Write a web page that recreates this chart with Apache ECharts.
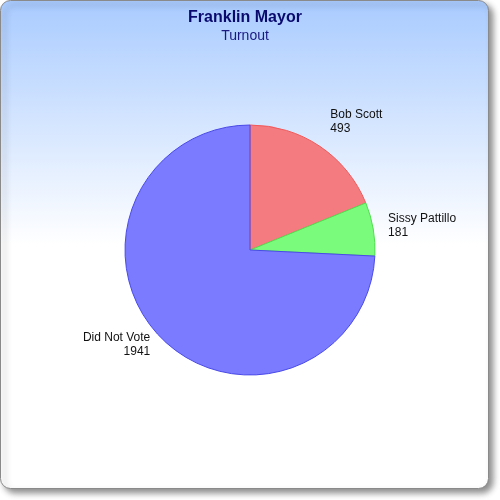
<!DOCTYPE html>
<html><head><meta charset="utf-8">
<script src="https://cdn.jsdelivr.net/npm/echarts@6/dist/echarts.min.js"></script>
<style>html,body{margin:0;padding:0;background:#fff}#c{width:500px;height:500px}</style>
</head><body><div id="c"></div>
<script>
const titleText = 'Franklin Mayor';
const subtitleText = 'Turnout';
const categories = ['Bob Scott', 'Sissy Pattillo', 'Did Not Vote'];
const values = [493, 181, 1941];
const fills = ['#f47b80', '#7bfb7b', '#7b7bff'];
const edges = ['#f05a5a', '#4ee04e', '#4a4ae8'];
const labelShiftY = [-16, -2, 2];
const labelShiftX = [0, 0, 3];

const chart = echarts.init(document.getElementById('c'), null, {renderer: 'canvas'});
chart.setOption({
  animation: false,
  backgroundColor: '#ffffff',
  graphic: [{
    type: 'rect', z: -10, silent: true,
    shape: {x: 0.5, y: 0.5, width: 488, height: 488, r: 10},
    style: {
      fill: new echarts.graphic.LinearGradient(0, 0, 0, 1, [
        {offset: 0, color: '#a9cbff'}, {offset: 0.5, color: '#ffffff'}, {offset: 1, color: '#ffffff'}
      ]),
      stroke: '#8a8a8a', lineWidth: 1,
      shadowColor: 'rgba(0,0,0,0.45)', shadowBlur: 6, shadowOffsetX: 4, shadowOffsetY: 4
    }
  }],
  title: {
    text: titleText, subtext: subtitleText, left: 240, top: 5, textAlign: 'center', itemGap: 3,
    textStyle: {fontFamily: 'Liberation Sans', fontWeight: 'bold', fontSize: 16, color: '#0a0a6e'},
    subtextStyle: {fontFamily: 'Liberation Sans', fontSize: 14, color: '#1a1a80'}
  },
  series: [{
    type: 'pie', center: [250, 250], radius: 125, startAngle: 90, clockwise: true,
    avoidLabelOverlap: false,
    data: categories.map((n, i) => ({
      name: n, value: values[i],
      itemStyle: {color: fills[i], borderColor: edges[i], borderWidth: 1}
    })),
    label: {
      show: true, position: 'outside', formatter: '{b}\n{c}',
      fontFamily: 'Liberation Sans', fontSize: 12, color: '#111', lineHeight: 14
    },
    labelLine: {show: false, length: 10, length2: 0},
    labelLayout: function (p) { return {dx: labelShiftX[p.dataIndex], dy: labelShiftY[p.dataIndex]}; },
    emphasis: {disabled: true}
  }]
});
</script></body></html>
